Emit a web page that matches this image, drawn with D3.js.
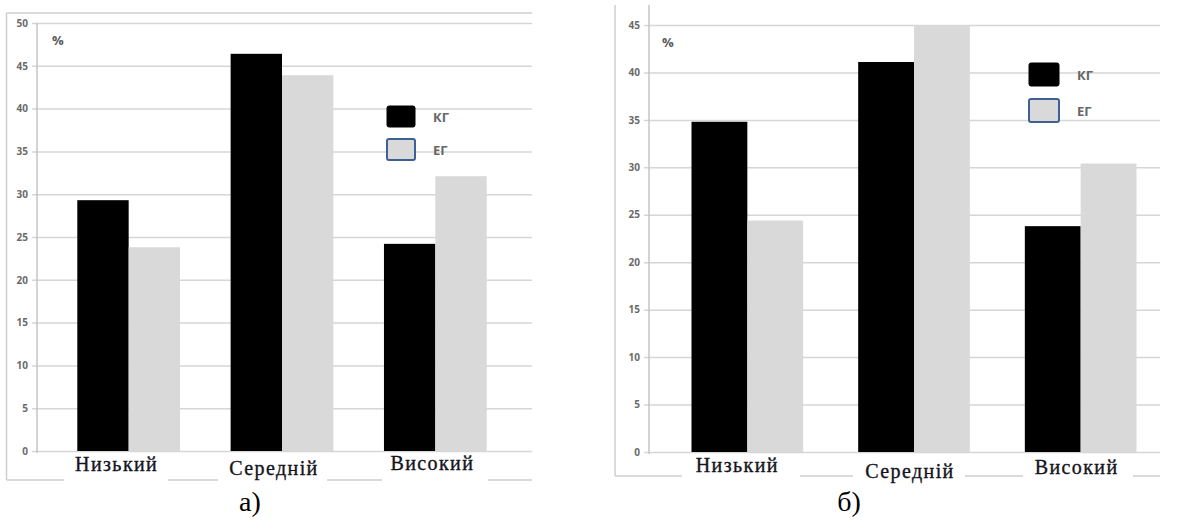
<!DOCTYPE html>
<html><head><meta charset="utf-8">
<script src="https://cdn.jsdelivr.net/npm/d3@7"></script>
<style>body{margin:0;background:#fff}svg{display:block}</style>
</head><body>
<svg id="c" width="1178" height="529"></svg>
<script>
const categories = ["Низький", "Середній", "Високий"];
const seriesNames = ["КГ", "ЕГ"];
const kgA = [29.3, 46.4, 24.2];
const egA = [23.8, 43.9, 32.1];
const kgB = [34.8, 41.1, 23.8];
const egB = [24.4, 45.0, 30.4];
const ticksA = [0, 5, 10, 15, 20, 25, 30, 35, 40, 45, 50];
const ticksB = [0, 5, 10, 15, 20, 25, 30, 35, 40, 45];
const captions = ["а)", "б)"];

const svg = d3.select("#c");
const colors = ["#000000", "#d9d9d9"];
const gridColor = "#d6d6d6";

function drawChart(cfg, kg, eg, ticks, caption) {
  const g = svg.append("g");
  const y = d3.scaleLinear().domain([0, ticks[ticks.length - 1]]).range([cfg.y0, cfg.y1]);
  const x = d3.scaleBand().domain(categories).range(cfg.xr).paddingInner(0.33).paddingOuter(0.165);
  const xs = d3.scaleBand().domain(seriesNames).range([0, x.bandwidth()]);

  const fr = cfg.frame;
  g.append("line").attr("x1", fr.l).attr("x2", fr.l).attr("y1", fr.t).attr("y2", fr.b)
    .attr("stroke", "#cfcfcf").attr("stroke-width", 1.5);
  if (fr.top) g.append("line").attr("x1", fr.l).attr("x2", fr.r).attr("y1", fr.t).attr("y2", fr.t)
    .attr("stroke", "#cfcfcf").attr("stroke-width", 1.5);
  g.append("line").attr("x1", fr.l).attr("x2", fr.r).attr("y1", fr.b).attr("y2", fr.b)
    .attr("stroke", "#cfcfcf").attr("stroke-width", 1.5);

  const axis = d3.axisLeft(y).tickValues(ticks).tickSize(-(cfg.gridR - cfg.axisX)).tickPadding(9).tickSizeOuter(0);
  const ag = g.append("g").attr("transform", `translate(${cfg.axisX},0)`).call(axis);
  ag.select(".domain").remove();
  ag.selectAll(".tick line").attr("stroke", gridColor).attr("stroke-width", 1.5).attr("x1", -5);
  ag.selectAll(".tick text").attr("font-family", "Open Sans, sans-serif").attr("font-weight", "bold")
    .attr("font-size", 10).attr("fill", "#6a6a6a");
  g.append("line").attr("x1", cfg.axisX).attr("x2", cfg.axisX).attr("y1", cfg.axisTop).attr("y2", cfg.y0 + 2)
    .attr("stroke", "#c4c4c4").attr("stroke-width", 1.5);

  const rows = categories.map((c, i) => ({ c, v: [kg[i], eg[i]] }));
  const grp = g.selectAll("g.cat").data(rows).join("g").attr("transform", d => `translate(${x(d.c)},0)`);
  grp.selectAll("rect").data(d => d.v.map((v, j) => ({ v, s: seriesNames[j], j })))
    .join("rect").attr("x", d => xs(d.s)).attr("width", xs.bandwidth())
    .attr("y", d => y(d.v)).attr("height", d => y(0) - y(d.v)).attr("fill", d => colors[d.j]);

  categories.forEach((c, i) => {
    const cx = x(c) + x.bandwidth() / 2 + cfg.labOff[i];
    const bx = cfg.labBox[i];
    g.append("rect").attr("x", bx[0]).attr("width", bx[1] - bx[0]).attr("y", cfg.y0 + 2).attr("height", cfg.frame.b - cfg.y0 + 1 + (i === 1 ? 3 : 0)).attr("fill", "#fff");
    g.append("text").attr("x", cx).attr("y", cfg.labY[i]).attr("text-anchor", "middle")
      .attr("font-family", "Liberation Serif, Times New Roman, serif").attr("font-size", 20)
      .attr("letter-spacing", 1.4).attr("fill", "#14141c").attr("stroke", "#14141c").attr("stroke-width", 0.35)
      .text(c);
  });

  g.append("text").attr("x", cfg.pct[0]).attr("y", cfg.pct[1]).attr("font-family", "Open Sans, sans-serif")
    .attr("font-size", 13).attr("font-weight", "bold").attr("fill", "#5a5a5a").text("%");

  const lg = cfg.legend;
  seriesNames.forEach((s, j) => {
    const yy = lg.y + j * lg.dy;
    g.append("rect").attr("x", lg.x).attr("y", yy).attr("width", lg.w).attr("height", lg.h).attr("rx", 2)
      .attr("fill", colors[j]).attr("stroke", j === 0 ? "#000" : "#3d6195").attr("stroke-width", j === 0 ? 1 : 2);
    g.append("text").attr("x", lg.x + lg.w + 18).attr("y", yy + lg.h / 2 + 5)
      .attr("font-family", "Open Sans, sans-serif").attr("font-weight", "bold").attr("font-size", 13)
      .attr("fill", "#666").text(s);
  });

  g.append("text").attr("x", cfg.cap[0]).attr("y", cfg.cap[1]).attr("text-anchor", "middle")
    .attr("font-family", "Liberation Serif, Times New Roman, serif").attr("font-size", 28)
    .attr("fill", "#000").text(caption);
}

drawChart({
  y0: 451, y1: 23, xr: [52, 512], axisX: 37, axisTop: 23, gridR: 532,
  frame: { l: 6.5, r: 532, t: 13, b: 480, top: true },
  labOff: [-12, -8, -3], labY: [471, 475, 470],
  labBox: [[64, 168], [218, 327], [382, 488]],
  pct: [52, 45], legend: { x: 387, y: 106, w: 28, h: 21, dy: 33 }, cap: [250, 511]
}, kgA, egA, ticksA, captions[0]);

drawChart({
  y0: 452, y1: 25, xr: [664, 1164], axisX: 649, axisTop: 5, gridR: 1160,
  frame: { l: 615, r: 1160, t: 5, b: 476, top: false },
  labOff: [-10, -4, -4], labY: [472, 478, 474],
  labBox: [[682, 800], [853, 965], [1023, 1133]],
  pct: [662, 47], legend: { x: 1029, y: 63, w: 30, h: 23, dy: 36 }, cap: [849, 511]
}, kgB, egB, ticksB, captions[1]);
</script>
</body></html>
